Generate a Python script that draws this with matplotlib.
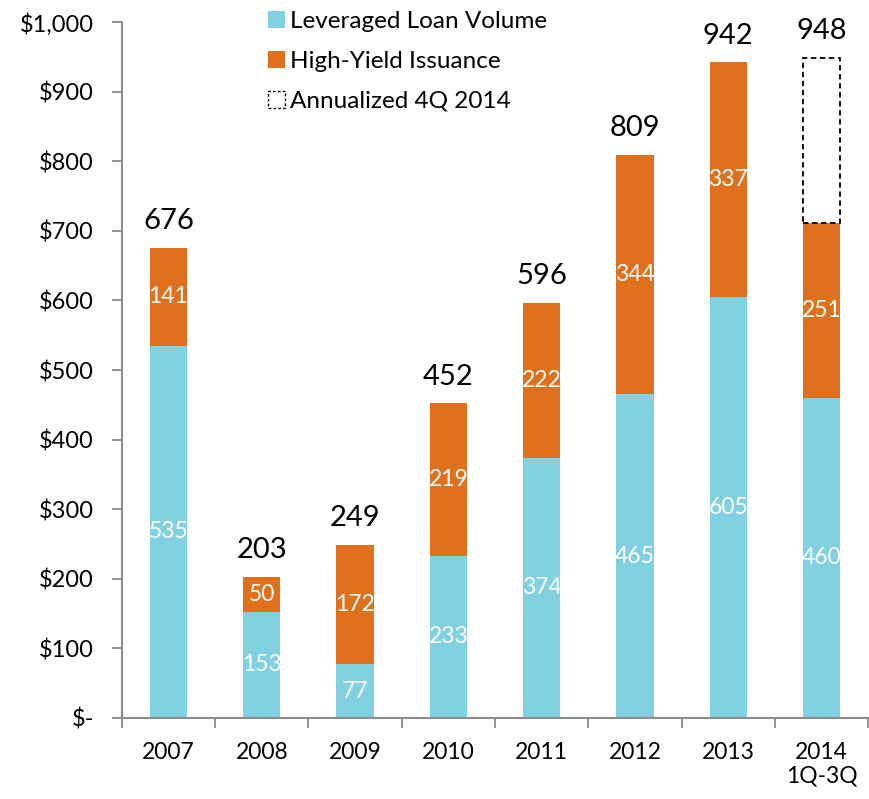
import matplotlib.pyplot as plt
from matplotlib.patches import Patch
from matplotlib.ticker import FixedLocator

years = ['2007', '2008', '2009', '2010', '2011', '2012', '2013', '2014\n1Q-3Q']
loan_volume = [535, 153, 77, 233, 374, 465, 605, 460]
high_yield = [141, 50, 172, 219, 222, 344, 337, 251]
annualized_total = 948  # 2014 full year estimate

blue = '#82D1E3'
orange = '#DF701E'
grey = '#8C8C8C'

plt.rcParams['font.family'] = ['Lato', 'DejaVu Sans']

fig = plt.figure(figsize=(8.7, 7.99), dpi=100)
ax = fig.add_axes([0.140, 0.1014, 0.858, 0.871])

x = list(range(len(years)))
totals = [a + b for a, b in zip(loan_volume, high_yield)]
width = 0.4

ax.bar(x, loan_volume, width, color=blue, label='Leveraged Loan Volume')
ax.bar(x, high_yield, width, bottom=loan_volume, color=orange,
       label='High-Yield Issuance')

# dashed annualized box on the last bar
last = len(years) - 1
ax.bar(last, annualized_total - totals[last], width, bottom=totals[last],
       facecolor='none', edgecolor='black', linestyle=(0, (3, 2)), linewidth=1.3)

for i in x:
    ax.text(i, loan_volume[i] / 2, str(loan_volume[i]), ha='center', va='center',
            color='white', fontsize=16.5)
    ax.text(i, loan_volume[i] + high_yield[i] / 2, str(high_yield[i]),
            ha='center', va='center', color='white', fontsize=16.5)
    top = annualized_total if i == last else totals[i]
    ax.annotate(str(top), (i, top), xytext=(0, 10), textcoords='offset points',
                ha='center', va='bottom', fontsize=21, annotation_clip=False)

ax.set_xlim(-0.5, len(years) - 0.5)
ax.set_ylim(0, 1000)
ax.set_yticks(range(0, 1001, 100))
ax.set_yticklabels(['$-'] + [f'${v:,}' for v in range(100, 1001, 100)])
ax.set_xticks(x)
ax.set_xticklabels(years)
ax.xaxis.set_minor_locator(FixedLocator([i - 0.5 for i in range(len(years) + 1)]))

ax.tick_params(axis='x', which='major', length=0, pad=17, labelsize=16.5)
ax.tick_params(axis='x', which='minor', length=7, color=grey, width=1.3)
ax.tick_params(axis='y', length=7, color=grey, width=1.3, pad=13, labelsize=17)

for side in ['top', 'right']:
    ax.spines[side].set_visible(False)
for side in ['left', 'bottom']:
    ax.spines[side].set_color(grey)
    ax.spines[side].set_linewidth(1.5)

handles = [Patch(facecolor=blue, label='Leveraged Loan Volume'),
           Patch(facecolor=orange, label='High-Yield Issuance'),
           Patch(facecolor='none', edgecolor='black', linestyle=(0, (2, 1.5)),
                 label='Annualized 4Q 2014')]
fig.legend(handles=handles, loc='upper left', bbox_to_anchor=(0.283, 1.014),
           frameon=False, fontsize=17.5, handlelength=0.7, handleheight=0.7,
           handletextpad=0.2, labelspacing=0.78)

plt.savefig('out.png', dpi=100)
